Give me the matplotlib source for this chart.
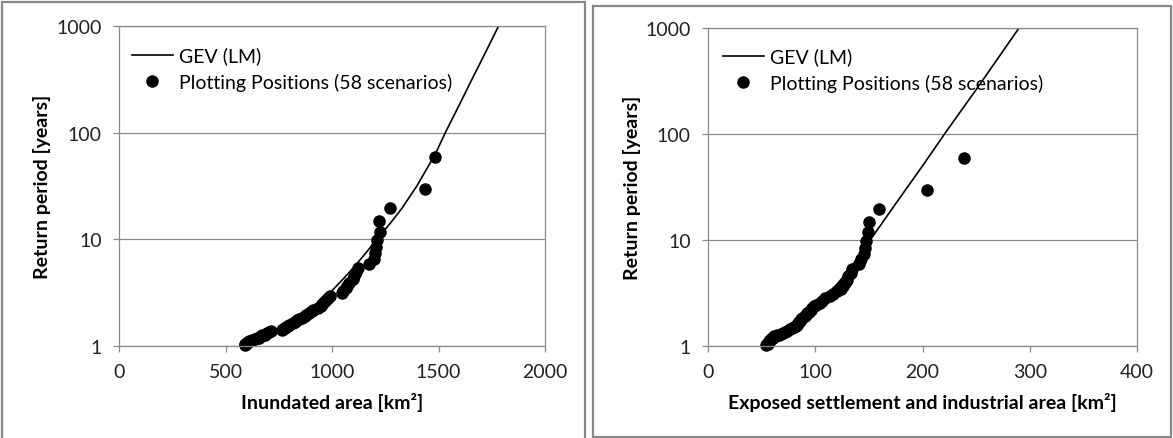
import matplotlib
matplotlib.use("Agg")
import matplotlib.pyplot as plt
from matplotlib.patches import Rectangle
from matplotlib.ticker import FixedLocator, NullLocator

# Weibull plotting positions (return period in years) for the 58 scenarios
return_periods = [
    59.0, 29.5, 19.67, 14.75, 11.8, 9.83, 8.43, 7.38, 6.56, 5.9,
    5.36, 4.92, 4.54, 4.21, 3.93, 3.69, 3.47, 3.28, 3.11, 2.95,
    2.81, 2.68, 2.57, 2.46, 2.36, 2.27, 2.19, 2.11, 2.03, 1.97,
    1.90, 1.84, 1.79, 1.74, 1.69, 1.64, 1.59, 1.55, 1.51, 1.48,
    1.44, 1.40, 1.37, 1.34, 1.31, 1.28, 1.26, 1.23, 1.20, 1.18,
    1.16, 1.13, 1.11, 1.09, 1.07, 1.05, 1.04, 1.02,
]
inundated_area = [
    1485, 1438, 1273, 1220, 1225, 1210, 1205, 1200, 1195, 1175,
    1120, 1112, 1105, 1100, 1080, 1072, 1068, 1050, 1045, 990,
    982, 970, 962, 955, 950, 935, 910, 905, 890, 880,
    872, 860, 845, 835, 825, 815, 800, 795, 785, 778,
    772, 765, 712, 705, 695, 685, 672, 665, 655, 650,
    640, 625, 610, 605, 600, 595, 592, 590,
]
settlement_area = [
    239, 204, 159, 150, 149, 147, 146, 145, 143, 141,
    134, 133, 131, 130, 128, 126, 124, 120, 117, 114,
    109, 106, 104, 101, 99, 97, 96, 94, 92, 91,
    90, 88, 87, 86, 85, 84, 83, 82, 80, 78,
    76, 74, 72, 70, 68, 66, 64, 62, 61, 60,
    59, 58, 57, 56.5, 56, 55.5, 55, 54.5,
]

# GEV (L-moments) fit curves
gev_inundated_x = [600, 650, 700, 750, 800, 850, 900, 950, 1000, 1050, 1100,
                   1150, 1211, 1273, 1328, 1400, 1485, 1532, 1600, 1657,
                   1720, 1782]
gev_inundated_t = [1.02, 1.1, 1.22, 1.38, 1.58, 1.85, 2.2, 2.7, 3.3, 4.2, 5.4,
                   7.1, 10, 14.1, 19.5, 32, 63, 100, 186, 316, 562, 1000]
gev_settlement_x = [54, 60, 70, 80, 90, 100, 110, 120, 130, 140, 150,
                    175, 200, 222, 250, 275, 290]
gev_settlement_t = [1.02, 1.15, 1.32, 1.55, 1.9, 2.35, 3.0, 3.8, 5.0, 6.9, 9.6,
                    22, 50, 105, 262, 605, 1000]

y_ticks = [1, 10, 100, 1000]
panels = [
    dict(x=inundated_area, gx=gev_inundated_x, gt=gev_inundated_t,
         xlim=(0, 2000), xticks=[0, 500, 1000, 1500, 2000],
         xlabel="Inundated area [km²]"),
    dict(x=settlement_area, gx=gev_settlement_x, gt=gev_settlement_t,
         xlim=(0, 400), xticks=[0, 100, 200, 300, 400],
         xlabel="Exposed settlement and industrial area [km²]"),
]

W, H = 1173, 439
GRAY = "#888888"
FS = 14
plt.rcParams["font.family"] = ["Lato", "DejaVu Sans"]
plt.rcParams["font.size"] = FS

fig = plt.figure(figsize=(W / 100, H / 100), dpi=100)

# panel frames and plot areas, as pixel boxes (x0, y0, x1, y1)
frames = [(2, 3, 585, 441), (593, 7, 1171, 438)]
areas = [(119, 27, 545, 347), (708, 29, 1137, 347)]
legend_offsets = [(13, 20.5), (15, 19.5)]
ylabel_x = [41.6, 632]


def px_rect(x0, y0, x1, y1):
    return [x0 / W, 1 - y1 / H, (x1 - x0) / W, (y1 - y0) / H]


for frame in frames:
    l, b, w, h = px_rect(*frame)
    fig.patches.append(Rectangle((l, b), w, h, transform=fig.transFigure,
                                 fill=False, edgecolor=GRAY, linewidth=1.6))

for p, area, off, ylx in zip(panels, areas, legend_offsets, ylabel_x):
    ax = fig.add_axes(px_rect(*area))
    aw, ah = area[2] - area[0], area[3] - area[1]

    ax.plot(p["gx"], p["gt"], color="black", linewidth=1.2, label="GEV (LM)")
    ax.plot(p["x"], return_periods, linestyle="none", marker="o", markersize=8,
            color="black", clip_on=False, label="Plotting Positions (58 scenarios)")

    ax.set_yscale("log")
    ax.set_ylim(1, 1000)
    ax.set_xlim(*p["xlim"])
    ax.yaxis.set_major_locator(FixedLocator(y_ticks))
    ax.yaxis.set_minor_locator(NullLocator())
    ax.set_yticklabels([str(t) for t in y_ticks])
    ax.set_xticks(p["xticks"])
    ax.grid(axis="y", color=GRAY, linewidth=0.9)
    ax.set_axisbelow(True)
    for s in ax.spines.values():
        s.set_color(GRAY)
        s.set_linewidth(0.9)
    ax.tick_params(direction="out", length=4, width=0.9, color=GRAY,
                   labelcolor="#222222", labelsize=FS, pad=8.5)

    ax.set_xlabel(p["xlabel"], fontweight="bold", va="center")
    ax.set_ylabel("Return period [years]", fontweight="bold", va="center")
    ax.xaxis.set_label_coords(0.5, -(403 - area[3]) / ah)
    ax.yaxis.set_label_coords((ylx - area[0]) / aw, 0.5)

    ax.legend(loc="upper left", bbox_to_anchor=(off[0] / aw, 1 - off[1] / ah),
              frameon=False, borderpad=0, borderaxespad=0, handlelength=2.1,
              handletextpad=0.3, labelspacing=0.42, fontsize=FS)

fig.savefig("out.png", dpi=100)
